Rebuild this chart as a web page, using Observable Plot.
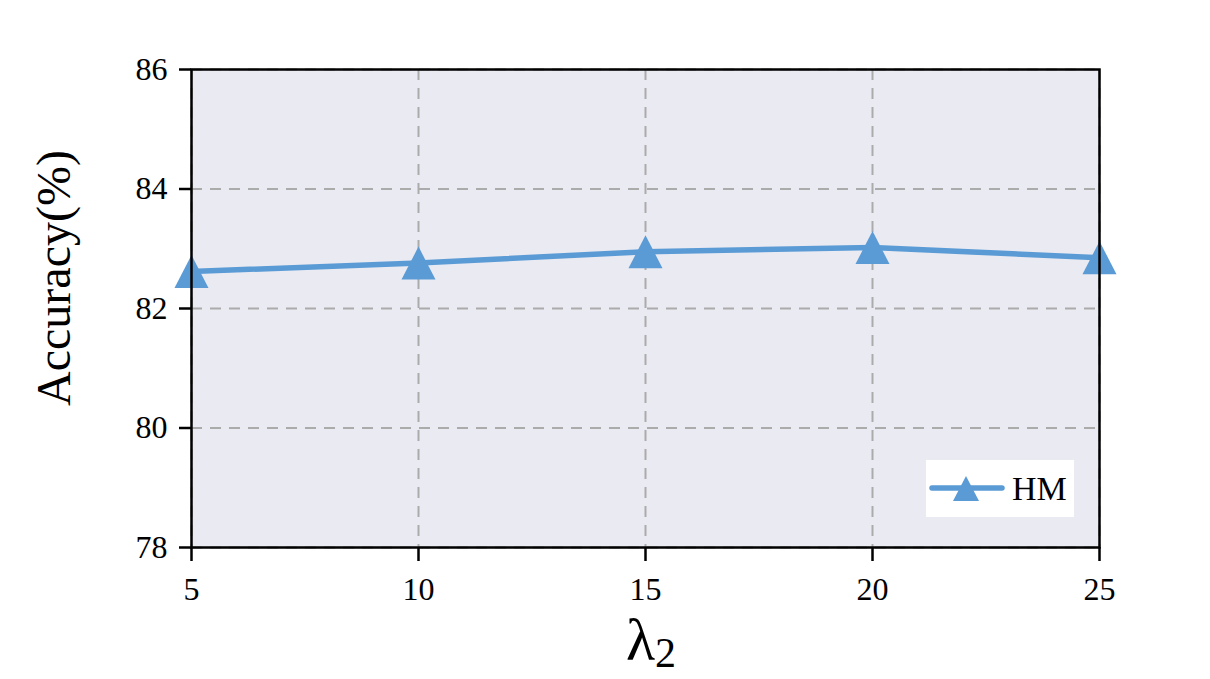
<!DOCTYPE html>
<html>
<head>
<meta charset="utf-8">
<script src="https://cdn.jsdelivr.net/npm/d3@7"></script>
<script src="https://cdn.jsdelivr.net/npm/@observablehq/plot@0.6"></script>
<style>
  html, body { margin: 0; padding: 0; background: #ffffff; }
  #chart { position: relative; width: 1210px; height: 679px; }
</style>
</head>
<body>
<div id="chart"></div>
<script>
// ---- data ----
const lambda2 = [5, 10, 15, 20, 25];
const hmAccuracy = [82.62, 82.76, 82.95, 83.02, 82.85];
const xTicks = [5, 10, 15, 20, 25];
const yTicks = [78, 80, 82, 84, 86];
const seriesName = "HM";
const xLabelMain = "λ";
const xLabelSub = "2";
const yLabel = "Accuracy(%)";

const data = lambda2.map((x, i) => ({x, y: hmAccuracy[i]}));

const blue = "#5B9BD5";
const serif = "'Liberation Serif', 'Times New Roman', serif";

// matplotlib-like "^" marker (centered on bounding box)
const mplTriangle = {
  draw(context, size) {
    const h = Math.sqrt(size / Math.PI);
    context.moveTo(0, -h);
    context.lineTo(h * 1.03, h);
    context.lineTo(-h * 1.03, h);
    context.closePath();
  }
};

const svg = Plot.plot({
  width: 1210,
  height: 679,
  marginLeft: 191,
  marginRight: 111,
  marginTop: 69,
  marginBottom: 132,
  style: {fontFamily: serif, fontSize: "32px", color: "black", background: "white"},
  x: {domain: [5, 25]},
  y: {domain: [78, 86]},
  marks: [
    Plot.frame({fill: "#EAEAF2"}),
    Plot.gridX({ticks: xTicks, stroke: "#ababab", strokeOpacity: 1, strokeWidth: 2, strokeDasharray: "11,8"}),
    Plot.gridY({ticks: yTicks, stroke: "#ababab", strokeOpacity: 1, strokeWidth: 2, strokeDasharray: "11,8"}),
    Plot.line(data, {x: "x", y: "y", stroke: blue, strokeWidth: 5.5, strokeLinejoin: "round"}),
    Plot.dot(data, {x: "x", y: "y", symbol: mplTriangle, r: 16.5, fill: blue, stroke: "none"}),
    Plot.frame({stroke: "black", strokeWidth: 2.5}),
    Plot.axisX({ticks: xTicks, tickSize: 14, tickPadding: 16, strokeWidth: 2.5, label: null, fontSize: 32}),
    Plot.axisY({ticks: yTicks, tickSize: 12, tickPadding: 12, strokeWidth: 2.5, label: null, fontSize: 32})
  ]
});

document.getElementById("chart").appendChild(svg);

const s = d3.select(svg);

// y-axis title
s.append("text")
  .attr("transform", "translate(70,278) rotate(-90)")
  .attr("text-anchor", "middle")
  .attr("font-family", serif)
  .attr("font-size", 48)
  .attr("fill", "black")
  .text(yLabel);

// x-axis title λ2
const xl = s.append("text")
  .attr("x", 651)
  .attr("y", 660)
  .attr("text-anchor", "middle")
  .attr("font-family", serif)
  .attr("font-size", 60)
  .attr("fill", "black");
xl.append("tspan").text(xLabelMain);
xl.append("tspan").attr("font-size", 42).attr("dy", 7).text(xLabelSub);

// legend
const lg = s.append("g");
lg.append("rect").attr("x", 926).attr("y", 460).attr("width", 148).attr("height", 57)
  .attr("fill", "white").attr("stroke", "none");
lg.append("line").attr("x1", 932).attr("x2", 1002).attr("y1", 488).attr("y2", 488)
  .attr("stroke", blue).attr("stroke-width", 5.5).attr("stroke-linecap", "round");
lg.append("path").attr("d", "M966,476 L979,501 L953,501 Z").attr("fill", blue);
lg.append("text").attr("x", 1012).attr("y", 500)
  .attr("text-anchor", "start")
  .attr("font-family", serif).attr("font-size", 34).attr("fill", "black")
  .text(seriesName);
</script>
</body>
</html>
